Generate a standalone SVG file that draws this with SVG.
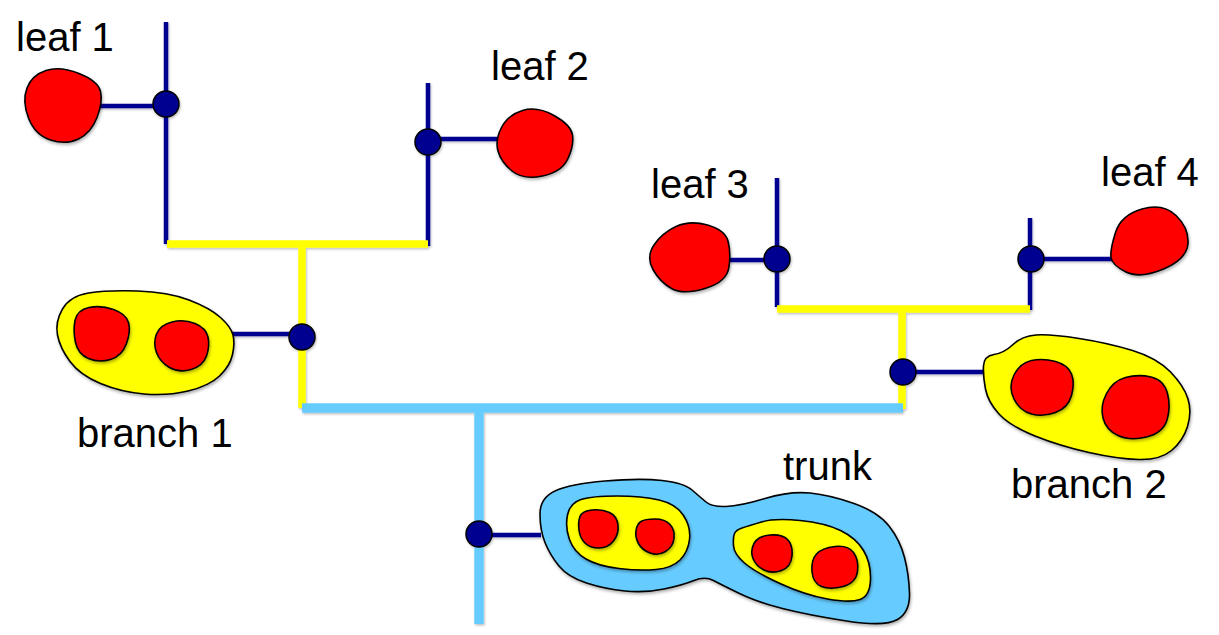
<svg xmlns="http://www.w3.org/2000/svg" width="1219" height="635" viewBox="0 0 1219 635">
<defs>
<filter id="sh" x="-20%" y="-20%" width="140%" height="140%">
<feDropShadow dx="1" dy="2" stdDeviation="1.5" flood-color="#000" flood-opacity="0.3"/>
</filter>
<filter id="lsh" x="-5%" y="-5%" width="110%" height="110%">
<feDropShadow dx="1" dy="1.5" stdDeviation="1" flood-color="#000" flood-opacity="0.25"/>
</filter>
</defs>
<style>
.leaf{fill:#FF0000;stroke:#000;stroke-width:1.6;filter:url(#sh)}
.br{fill:#FFFF00;stroke:#000;stroke-width:1.6;filter:url(#sh)}
.tr{fill:#66CCFF;stroke:#000;stroke-width:1.6;filter:url(#sh)}
.bl{stroke:#000090;stroke-width:4.5;fill:none}
.yl{stroke:#FFFF00;stroke-width:7.5;fill:none}
.lb{stroke:#66CCFF;stroke-width:9.5;fill:none}
.dot{fill:#000090;stroke:#000;stroke-width:1.5}
.lbl{font-family:"Liberation Sans",Arial,Helvetica,sans-serif;font-size:40px;fill:#000}
</style>
<rect width="1219" height="635" fill="#fff"/>
<g id="connectors" filter="url(#lsh)">
<line class="bl" x1="166" y1="22" x2="166" y2="244"/>
<line class="bl" x1="98" y1="106" x2="166" y2="106"/>
<line class="bl" x1="428" y1="83" x2="428" y2="246"/>
<line class="bl" x1="428" y1="139" x2="499" y2="139"/>
<line class="bl" x1="777" y1="178" x2="777" y2="307"/>
<line class="bl" x1="729" y1="260" x2="777" y2="260"/>
<line class="bl" x1="1030" y1="218" x2="1030" y2="310"/>
<line class="bl" x1="1030" y1="259" x2="1113" y2="259"/>
<line class="bl" x1="232" y1="334" x2="302" y2="334"/>
<line class="bl" x1="903" y1="372" x2="987" y2="372"/>
<line class="bl" x1="479" y1="535" x2="541" y2="535"/>
<line class="yl" x1="167" y1="244" x2="428" y2="244"/>
<line class="yl" x1="302" y1="244" x2="302" y2="408"/>
<line class="yl" x1="777" y1="309" x2="1030" y2="309"/>
<line class="yl" x1="902" y1="309" x2="902" y2="409"/>
<line class="lb" x1="302" y1="408" x2="903" y2="408"/>
<line class="lb" x1="479" y1="408" x2="479" y2="624"/>
<circle class="dot" cx="166" cy="104" r="13"/>
<circle class="dot" cx="428" cy="142" r="13"/>
<circle class="dot" cx="777" cy="259" r="13"/>
<circle class="dot" cx="1031" cy="259" r="13"/>
<circle class="dot" cx="302" cy="337" r="13"/>
<circle class="dot" cx="903" cy="372" r="13"/>
<circle class="dot" cx="479" cy="534" r="13"/>
</g>
<g id="leaf1">
<path class="leaf" d="M79,73.5 Q98,81 100.5,91.5 Q103,102 97,117.5 Q91,133 78.5,139 Q66,145 50.5,140 Q35,135 28.5,118 Q22,101 27,88 Q32,75 46,70.5 Q60,66 79,73.5 Z"/>
<text class="lbl" x="16" y="51">leaf 1</text>
</g>
<g id="leaf2">
<path class="leaf" d="M554,115.5 Q571,125 572.5,135 Q574,145 568,158.5 Q562,172 542.5,176 Q523,180 512,171 Q501,162 498,151 Q495,140 501.5,127.5 Q508,115 522.5,110.5 Q537,106 554,115.5 Z"/>
<text class="lbl" x="491" y="80">leaf 2</text>
</g>
<g id="leaf3">
<path class="leaf" d="M707.5,225 Q725,230 728,241 Q731,252 729,267 Q727,282 705,288.5 Q683,295 671.5,288.5 Q660,282 653,269.5 Q646,257 654,245 Q662,233 676,226.5 Q690,220 707.5,225 Z"/>
<text class="lbl" x="651" y="198">leaf 3</text>
</g>
<g id="leaf4">
<path class="leaf" d="M1176,215.5 Q1189,228 1188,243.5 Q1187,259 1163.5,269 Q1140,279 1126,272 Q1112,265 1111,257.5 Q1110,250 1115.5,232.5 Q1121,215 1142,209 Q1163,203 1176,215.5 Z"/>
<text class="lbl" x="1101" y="186">leaf 4</text>
</g>
<g id="branch1">
<path class="br" d="M88.5,293 Q107,290 137.5,291 Q168,292 189,300 Q210,308 220.5,317.5 Q231,327 233,335 Q235,343 232.5,354.5 Q230,366 219.5,376 Q209,386 188,391 Q167,396 144,394 Q121,392 100.5,383.5 Q80,375 70,361.5 Q60,348 57.5,335 Q55,322 62.5,309 Q70,296 88.5,293 Z"/>
<path class="leaf" d="M89,307.5 Q101,305 113.5,309.5 Q126,314 128.5,322.5 Q131,331 126.5,343.5 Q122,356 110.5,359.5 Q99,363 88.5,358.5 Q78,354 75.5,342.5 Q73,331 75,320.5 Q77,310 89,307.5 Z"/>
<path class="leaf" d="M172,322 Q184,319 195,323.5 Q206,328 208,337 Q210,346 206.5,356 Q203,366 191,369.5 Q179,373 169.5,367.5 Q160,362 156.5,352.5 Q153,343 156.5,334 Q160,325 172,322 Z"/>
<text class="lbl" x="77" y="447">branch 1</text>
</g>
<g id="branch2">
<path class="br" d="M994,354.5 Q1004,353 1013,344.5 Q1022,336 1036,335 Q1050,334 1079,338.5 Q1108,343 1132.5,350.5 Q1157,358 1170.5,372 Q1184,386 1188,399 Q1192,412 1187.5,426.5 Q1183,441 1171.5,450.5 Q1160,460 1139,459.5 Q1118,459 1089,452.5 Q1060,446 1035,436 Q1010,426 999,414 Q988,402 985.5,389 Q983,376 983.5,366 Q984,356 994,354.5 Z"/>
<path class="leaf" d="M1031.5,360.5 Q1043,358 1055.5,361.5 Q1068,365 1071.5,374 Q1075,383 1071.5,395.5 Q1068,408 1055.5,412.5 Q1043,417 1031.5,414 Q1020,411 1014,399 Q1008,387 1014,375 Q1020,363 1031.5,360.5 Z"/>
<path class="leaf" d="M1125.5,377.5 Q1138,374 1151,377 Q1164,380 1167.5,393.5 Q1171,407 1167,420 Q1163,433 1146.5,437 Q1130,441 1118,435.5 Q1106,430 1103,418 Q1100,406 1106.5,393.5 Q1113,381 1125.5,377.5 Z"/>
<text class="lbl" x="1011" y="498">branch 2</text>
</g>
<g id="trunk">
<path class="tr" d="M555,491 Q570,484 605,481 Q640,478 662,480.5 Q684,483 692,490 Q700,497 706,502 Q712,507 726,506.5 Q740,506 765,498.5 Q790,491 810,493 Q830,495 854,503.5 Q878,512 889,526 Q900,540 904.5,557.5 Q909,575 909.5,593.5 Q910,612 897.5,619.5 Q885,627 846.5,621 Q808,615 782.5,608.5 Q757,602 739.5,593.5 Q722,585 713.5,580.5 Q705,576 694,580.5 Q683,585 664,589 Q645,593 625,591 Q605,589 586.5,583 Q568,577 559,566 Q550,555 545,542.5 Q540,530 540,514 Q540,498 555,491 Z"/>
<path class="br" d="M581,499.5 Q592,496 617,496 Q642,496 659,500 Q676,504 683.5,515.5 Q691,527 689.5,539.5 Q688,552 680,560 Q672,568 656,569.5 Q640,571 619,568.5 Q598,566 586,559 Q574,552 569.5,539.5 Q565,527 567.5,515 Q570,503 581,499.5 Z"/>
<path class="leaf" d="M592,510 Q602,509 609.5,512.5 Q617,516 618,525 Q619,534 613.5,541 Q608,548 599,548 Q590,548 585,543 Q580,538 579,530 Q578,522 580,516.5 Q582,511 592,510 Z"/>
<path class="leaf" d="M655,519 Q665,519 670,524.5 Q675,530 674,538.5 Q673,547 665.5,551.5 Q658,556 650,553 Q642,550 638.5,543.5 Q635,537 636,530.5 Q637,524 641,521.5 Q645,519 655,519 Z"/>
<path class="br" d="M742,528 Q748,526 761.5,522 Q775,518 800,520.5 Q825,523 840.5,530.5 Q856,538 863.5,550.5 Q871,563 870.5,579.5 Q870,596 860,599.5 Q850,603 827.5,599 Q805,595 780,583.5 Q755,572 744.5,563 Q734,554 733.5,545.5 Q733,537 734.5,533.5 Q736,530 742,528 Z"/>
<path class="leaf" d="M770,535 Q782,534 787.5,539.5 Q793,545 792,556 Q791,567 781.5,570.5 Q772,574 764,570 Q756,566 753,558.5 Q750,551 754,543.5 Q758,536 770,535 Z"/>
<path class="leaf" d="M835,546.5 Q848,545 853.5,552.5 Q859,560 857.5,571.5 Q856,583 843,586.5 Q830,590 821.5,586.5 Q813,583 812,571.5 Q811,560 816.5,554 Q822,548 835,546.5 Z"/>
<text class="lbl" x="783" y="480">trunk</text>
</g>
</svg>
